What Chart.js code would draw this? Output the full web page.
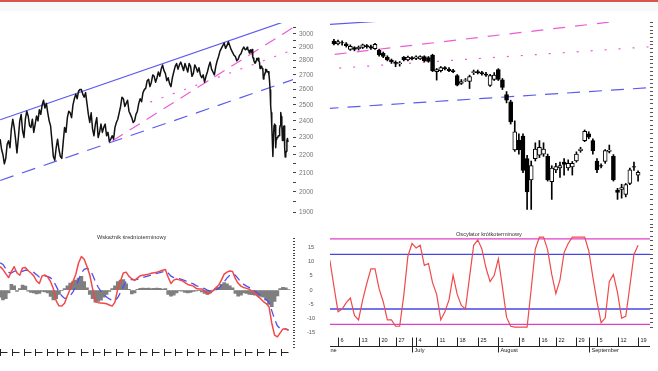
<!DOCTYPE html>
<html>
<head>
<meta charset="utf-8">
<script src="https://cdn.jsdelivr.net/npm/chart.js@4.4.0/dist/chart.umd.min.js"></script>
<style>
  body { margin: 0; width: 658px; height: 371px; background: #fff; position: relative; overflow: hidden; font-family: "Liberation Sans", Arial, sans-serif; }
  .topbar { position: absolute; left: 0; top: 0; width: 658px; height: 2px; background: #d9534f; }
  .band { position: absolute; left: 0; top: 2px; width: 658px; height: 9px; background: #f8f8f8; }
  canvas { position: absolute; }
  .ttl { position: absolute; font-size: 5.6px; line-height: 7px; color: #333; white-space: nowrap; }
</style>
</head>
<body>
<div class="topbar"></div>
<div class="band"></div>
<canvas id="priceChart" width="330" height="222" style="left:0;top:0"></canvas>
<canvas id="candleChart" width="328" height="230" style="left:330px;top:0"></canvas>
<canvas id="mediumChart" width="330" height="149" style="left:0;top:222px"></canvas>
<canvas id="shortChart" width="328" height="149" style="left:330px;top:222px"></canvas>
<div class="ttl" style="left:97px;top:234px">Wskaźnik średnioterminowy</div>
<div class="ttl" style="left:456px;top:231px">Oscylator krótkoterminowy</div>
<script>
// trading day index: 0 = 6 June

// top-left: closes every half week up to early June
const earlyStart = -441;
const earlyStep = 2.5;
const earlyCloses = [
  2290, 2230, 2200, 2150, 2180, 2260, 2280, 2240, 2350, 2410,
  2360, 2290, 2210, 2300, 2400, 2440, 2340, 2300, 2410, 2460,
  2430, 2370, 2360, 2410, 2330, 2380, 2430, 2400, 2470, 2440,
  2500, 2530, 2480, 2510, 2450, 2400, 2370, 2280, 2190, 2170,
  2240, 2290, 2230, 2190, 2180, 2270, 2360, 2330, 2420, 2460,
  2450, 2420, 2500, 2540, 2570, 2540, 2590, 2600, 2600, 2570,
  2550, 2580, 2510, 2440, 2390, 2450, 2350, 2310, 2380, 2420,
  2300, 2330, 2380, 2330, 2360, 2380, 2310, 2330, 2275, 2290,
  2310, 2290, 2360, 2390, 2410, 2450, 2490, 2550, 2540, 2490,
  2510, 2530, 2460, 2440, 2420, 2390, 2400, 2440, 2460, 2510,
  2540, 2520, 2580, 2600, 2610, 2660, 2670, 2620, 2650, 2700,
  2690, 2650, 2680, 2720, 2690, 2740, 2770, 2730, 2710, 2660,
  2680, 2640, 2620, 2680, 2720, 2760, 2780, 2740, 2770, 2790,
  2760, 2730, 2780, 2750, 2720, 2780, 2760, 2690, 2710, 2770,
  2750, 2720, 2750, 2700, 2680, 2700, 2650, 2690, 2720, 2760,
  2790, 2740, 2720, 2700, 2760, 2800, 2830, 2870, 2890, 2910,
  2930, 2890, 2910, 2940, 2910, 2880, 2860, 2840, 2830, 2800,
  2810, 2840, 2850, 2880, 2900, 2880
];

// daily candles, June - September
const candleStart = -1;
const opens = [
  2900, 2885, 2892, 2886, 2855, 2865, 2860, 2866, 2876, 2870,
  2860, 2850, 2835, 2815, 2800, 2788, 2780, 2815, 2800, 2812,
  2808, 2806, 2818, 2812, 2826, 2740, 2745, 2760, 2752, 2745,
  2720, 2680, 2695, 2690, 2735, 2740, 2735, 2728, 2670, 2700,
  2750, 2698, 2625, 2590, 2368, 2412, 2430, 2330, 2240, 2330,
  2345, 2350, 2340, 2232, 2282, 2290, 2315, 2290, 2295, 2320,
  2365, 2410, 2440, 2410, 2320, 2300, 2318, 2362, 2340, 2198,
  2200, 2180, 2225, 2296, 2260
];
const highs = [
  2910, 2905, 2902, 2892, 2880, 2870, 2874, 2884, 2882, 2878,
  2888, 2856, 2842, 2822, 2805, 2795, 2792, 2818, 2820, 2818,
  2822, 2822, 2822, 2818, 2830, 2756, 2766, 2766, 2760, 2752,
  2725, 2700, 2705, 2722, 2748, 2748, 2742, 2736, 2726, 2735,
  2755, 2705, 2640, 2598, 2500, 2440, 2440, 2345, 2320, 2400,
  2410, 2400, 2350, 2300, 2310, 2315, 2330, 2325, 2318, 2360,
  2380, 2458, 2450, 2418, 2330, 2308, 2370, 2390, 2348, 2205,
  2222, 2225, 2290, 2315, 2278
];
const lows = [
  2880, 2880, 2878, 2868, 2850, 2848, 2852, 2860, 2862, 2855,
  2855, 2820, 2812, 2795, 2782, 2765, 2768, 2795, 2795, 2800,
  2802, 2802, 2790, 2788, 2740, 2697, 2738, 2748, 2740, 2735,
  2668, 2675, 2690, 2655, 2725, 2728, 2722, 2715, 2665, 2695,
  2695, 2650, 2585, 2485, 2362, 2350, 2270, 2120, 2120, 2320,
  2335, 2340, 2235, 2160, 2270, 2250, 2260, 2280, 2260, 2315,
  2358, 2405, 2418, 2350, 2270, 2290, 2310, 2355, 2235, 2160,
  2165, 2170, 2220, 2280, 2235
];
const closes = [
  2885, 2898, 2890, 2875, 2872, 2855, 2866, 2880, 2870, 2862,
  2882, 2826, 2818, 2800, 2790, 2782, 2785, 2800, 2815, 2806,
  2816, 2818, 2795, 2792, 2745, 2750, 2760, 2755, 2745, 2740,
  2672, 2690, 2698, 2715, 2740, 2735, 2730, 2722, 2720, 2722,
  2700, 2660, 2598, 2495, 2450, 2368, 2280, 2190, 2300, 2372,
  2380, 2372, 2240, 2290, 2296, 2300, 2305, 2310, 2310, 2350,
  2372, 2452, 2425, 2365, 2282, 2298, 2365, 2368, 2240, 2188,
  2208, 2220, 2282, 2294, 2272
];

// trend lines, [day, value] end points
const upperChannel = [[-441, 2407], [90, 3131]];
const lowerChannel = [[-441, 2060], [90, 2678]];
const fanDashed = [[-240, 2281], [90, 3070]];
const fanDotted = [[-173, 2518], [90, 2891]];

const priceTicks = [1900, 2000, 2100, 2200, 2300, 2400, 2500, 2600, 2700, 2800, 2900, 3000];

// bottom-left: medium-term indicator, weekly
const indStart = -441;
const indStep = 5;
const indLine = [
  8.3, 7.2, 5.8, 4.4, 6.5, 8.2, 6.0, 5.2, 7.8, 7.9,
  6.8, 6.0, 5.0, 3.2, 2.3, 5.0, 5.3, 4.6, 3.0, 0.5,
  -3.8, -5.5, -5.6, -4.6, -2.0, 0.4, 3.0, 5.5, 9.5, 11.8,
  10.8, 8.3, 5.3, 0.5, -4.0, -4.4, -4.5, -4.6, -4.8, -5.2,
  -5.6, -4.2, 0.5, 3.3, 6.0, 6.3, 4.8, 4.0, 3.4, 4.2,
  5.0, 5.2, 5.4, 5.6, 5.9, 6.1, 6.3, 6.6, 7.0, 7.2,
  4.5, 2.3, 3.5, 3.9, 3.6, 3.3, 2.6, 2.0, 1.7, 1.4,
  0.6, 0.4, 0.4, -0.3, -1.4, -1.0, -0.3, 0.8, 1.7, 3.5,
  5.6, 6.3, 6.7, 6.5, 4.0, 2.4, 1.4, 0.9, 0.6, 0.3,
  -0.4, -1.0, -2.2, -3.0, -4.0, -4.7, -5.8, -11.6, -15.8, -16.4,
  -15.0, -13.6, -13.6, -14.2
];
const indSignal = [
  9.6, 9.0, 7.5, 6.2, 6.0, 6.6, 6.8, 6.5, 6.6, 7.0,
  6.9, 6.6, 6.2, 5.4, 4.6, 4.7, 4.9, 4.8, 4.3, 3.3,
  1.4, -0.6, -2.0, -2.9, -2.7, -2.0, -0.6, 1.2, 3.6, 6.0,
  7.3, 7.6, 7.2, 5.4, 3.0, 1.0, -0.4, -1.5, -2.4, -3.1,
  -3.6, -3.7, -2.6, -0.8, 1.3, 3.0, 3.6, 3.7, 3.6, 3.8,
  4.1, 4.4, 4.7, 5.0, 5.3, 5.6, 5.9, 6.1, 6.4, 6.6,
  6.0, 4.9, 4.4, 4.2, 4.0, 3.7, 3.3, 2.9, 2.5, 2.2,
  1.6, 1.2, 0.9, 0.5, 0.0, -0.3, -0.3, 0.1, 0.6, 1.5,
  2.9, 4.2, 5.2, 5.8, 5.2, 4.0, 2.8, 2.0, 1.4, 0.9,
  0.3, -0.3, -1.1, -1.8, -2.6, -3.4, -4.3, -7.2, -10.2, -12.5,
  -13.5, -13.6, -13.6, -13.9
];
const indHist = [
  -2.5, -3.4, -3.0, -1.0, 2.0, 1.5, -0.5, 0.5, 1.8, 1.4,
  -0.4, -0.8, -1.0, -1.3, -1.2, -0.5, -0.6, -1.0, -2.2, -3.4,
  -3.0, -1.5, -0.2, 0.5, 1.5, 2.5, 3.0, 3.5, 4.2, 4.8,
  3.0, 0.8, -1.5, -3.0, -4.2, -4.0, -3.5, -2.5, -1.5, -0.5,
  0.5, 1.5, 3.0, 3.5, 3.7, 2.2, 0.3, -1.3, -1.0, 0.3,
  0.6, 0.7, 0.6, 0.7, 0.5, 0.6, 0.7, 0.6, 0.4, 0.5,
  -1.5, -2.1, -1.8, -1.0, -0.3, -0.4, -0.8, -1.0, -0.8, -0.5,
  -0.3, -0.2, -0.6, -1.2, -1.5, -1.0, 0.0, 0.6, 1.0, 2.0,
  2.6, 2.2, 1.5, 0.8, -1.2, -2.1, -1.8, -1.0, -1.2, -1.5,
  -1.6, -1.8, -2.0, -2.2, -2.5, -3.5, -5.0, -5.8, -4.0, -2.0,
  0.5, 1.0, 0.8, 0.2
];
const indTicks = [15, 10, 5, 0, -5, -10, -15];
const monthStarts = [-442, -420, -398, -378, -358, -339, -319, -296, -276, -256, -235, -213, -191,
  -169, -148, -128, -107, -87, -67, -44, -24, -3, 18, 39, 61];

// bottom-right: short-term oscillator, daily
const oscStart = -2;
const oscValues = [
  74, 45, 17, 20, 27, 32, 13, 8, 30, 48,
  64, 64, 42, 28, 8, 8, 1, 1, 35, 78,
  92, 87, 90, 68, 70, 49, 36, 8, 17, 30,
  57, 36, 24, 20, 55, 90, 96, 86, 65, 50,
  57, 75, 44, 11, 1, 0, 0, 0, 0, 42,
  86, 99, 99, 85, 58, 37, 52, 82, 92, 99,
  99, 99, 99, 84, 55, 28, 5, 10, 50, 58,
  38, 10, 12, 45, 80, 90
];
const oscOuter = [3, 97];
const oscInner = [20, 80];
const weekDays = [0, 5, 10, 14, 19, 24, 29, 34, 39, 44, 49, 53, 58, 63, 68, 73];
const weekLabels = ['6', '13', '20', '27', '4', '11', '18', '25', '1', '8', '16', '22', '29', '5', '12', '19'];
const monthDays = [-4, 18, 39, 61];
const monthLabels = ['June', 'July', 'August', 'September'];

const BLUE = '#5b5bef';
const PINK = '#ec5bd6';

Chart.defaults.font.family = '"Liberation Sans", Arial, sans-serif';
Chart.defaults.animation = false;
Chart.defaults.plugins.legend.display = false;
Chart.defaults.plugins.tooltip.enabled = false;
Chart.defaults.elements.point.radius = 0;

const trend = (pts, color, dash, order) => ({
  type: 'line',
  data: pts.map(p => ({ x: p[0], y: p[1] })),
  borderColor: color,
  borderWidth: 1.2,
  borderDash: dash,
  order: order || 0
});

// ---- top-left: closes with channel ----
const leftPoints = earlyCloses.map((v, i) => ({ x: earlyStart + i * earlyStep, y: v }))
  .concat(closes.map((v, i) => ({ x: candleStart + i, y: v })));

new Chart(document.getElementById('priceChart'), {
  type: 'line',
  data: {
    datasets: [
      trend(upperChannel, BLUE, [], 1),
      trend(lowerChannel, BLUE, [14, 9], 1),
      trend(fanDashed, PINK, [12, 8], 1),
      trend(fanDotted, PINK, [2, 10], 1),
      { data: leftPoints, borderColor: '#111', borderWidth: 1.5, borderJoinStyle: 'round', order: 0 }
    ]
  },
  options: {
    responsive: false,
    devicePixelRatio: 1,
    layout: { padding: { top: 23, bottom: 4, left: 0, right: 0 }, autoPadding: false },
    scales: {
      x: { type: 'linear', min: -441.3, max: 81.9, display: false },
      y: {
        type: 'logarithmic', position: 'right', min: 1885, max: 3084,
        afterFit: s => { s.width = 37; },
        afterBuildTicks: s => {
          const t = [];
          priceTicks.forEach(p => { t.push({ value: p }); t.push({ value: p + 50 }); });
          s.ticks = t;
        },
        grid: { drawOnChartArea: false, tickLength: 3, color: '#444' },
        border: { display: false },
        ticks: {
          autoSkip: false, padding: 3, color: '#777', font: { size: 6.5 },
          callback: v => priceTicks.includes(v) ? String(v) : ''
        }
      }
    }
  }
});

// ---- top-right: candles ----
const wicks = lows.map((l, i) => ({ x: candleStart + i, y: [l, highs[i]] }));
const bodies = opens.map((o, i) => ({ x: candleStart + i, y: [o, closes[i]] }));
const bodyColors = opens.map((o, i) => closes[i] >= o ? '#fff' : '#000');

const rightTicks = [];
for (let v = 2060; v <= 3000; v += 20) rightTicks.push({ value: v });

new Chart(document.getElementById('candleChart'), {
  type: 'bar',
  data: {
    datasets: [
      { data: wicks, backgroundColor: '#000', barThickness: 1, grouped: false, order: 1 },
      { data: bodies, backgroundColor: bodyColors, borderColor: '#000', borderWidth: 1,
        borderSkipped: false, barThickness: 4, grouped: false, order: 0 },
      trend(upperChannel, BLUE, [], 2),
      trend(lowerChannel, BLUE, [13, 9], 2),
      trend(fanDashed, PINK, [12, 10], 2),
      trend(fanDotted, PINK, [2, 12], 2)
    ]
  },
  options: {
    responsive: false,
    devicePixelRatio: 1,
    layout: { padding: { top: 22, bottom: 2, left: 0, right: 0 }, autoPadding: false },
    scales: {
      x: { type: 'linear', offset: false, min: -1.95, max: 75.9, display: false },
      y: {
        type: 'logarithmic', position: 'right', min: 2048, max: 3005,
        afterFit: s => { s.width = 8; },
        afterBuildTicks: s => { s.ticks = rightTicks.slice(); },
        grid: { drawOnChartArea: false, tickLength: 3, color: '#555' },
        border: { display: false },
        ticks: { display: false }
      }
    }
  }
});

// ---- bottom-left: medium-term indicator ----
const indX = i => indStart + i * indStep;

const monthTicks = {
  id: 'monthTicks',
  afterDraw(chart) {
    const { ctx, scales: { x }, chartArea } = chart;
    ctx.save();
    ctx.strokeStyle = '#222';
    ctx.lineWidth = 1;
    monthStarts.forEach(d => {
      const px = Math.round(x.getPixelForValue(d)) + 0.5;
      if (px < 0 || px > chartArea.right) return;
      ctx.beginPath();
      ctx.moveTo(px, 127); ctx.lineTo(px, 134);
      ctx.moveTo(px, 130.5); ctx.lineTo(px + 7, 130.5);
      ctx.stroke();
    });
    ctx.restore();
  }
};

const indAxisTicks = [];
for (let v = -20; v <= 18; v++) indAxisTicks.push({ value: v });

new Chart(document.getElementById('mediumChart'), {
  type: 'bar',
  data: {
    datasets: [
      { data: indHist.map((v, i) => ({ x: indX(i), y: v })), backgroundColor: '#7f7f7f',
        barThickness: 3, grouped: false, order: 2 },
      { type: 'line', data: indSignal.map((v, i) => ({ x: indX(i), y: v })), borderColor: '#4f4ff0',
        borderWidth: 1.3, borderDash: [8, 5], order: 1 },
      { type: 'line', data: indLine.map((v, i) => ({ x: indX(i), y: v })), borderColor: '#f24848',
        borderWidth: 1.5, borderJoinStyle: 'round', order: 0 }
    ]
  },
  options: {
    responsive: false,
    devicePixelRatio: 1,
    layout: { padding: { top: 11, bottom: 23, left: 0, right: 0 }, autoPadding: false },
    scales: {
      x: { type: 'linear', offset: false, min: -441.3, max: 81.9, display: false },
      y: {
        position: 'right', min: -20.3, max: 18.5,
        afterFit: s => { s.width = 37; },
        afterBuildTicks: s => { s.ticks = indAxisTicks.slice(); },
        grid: { drawOnChartArea: false, tickLength: 2, color: '#444' },
        border: { display: false },
        ticks: {
          autoSkip: false, padding: 12, crossAlign: 'center', color: '#555', font: { size: 5.6 },
          callback: v => indTicks.includes(v) ? String(v) : ''
        }
      }
    }
  },
  plugins: [monthTicks]
});

// ---- bottom-right: short-term oscillator ----
const dateAxis = {
  id: 'dateAxis',
  afterDraw(chart) {
    const { ctx, scales: { x }, chartArea } = chart;
    const base = 124.5;
    ctx.save();
    ctx.strokeStyle = '#222';
    ctx.fillStyle = '#222';
    ctx.lineWidth = 1;
    ctx.beginPath();
    ctx.moveTo(chartArea.left, base); ctx.lineTo(chartArea.right, base);
    ctx.stroke();
    ctx.font = '5.6px "Liberation Sans", Arial, sans-serif';
    ctx.textBaseline = 'middle';
    weekDays.forEach((d, i) => {
      const px = Math.round(x.getPixelForValue(d)) + 0.5;
      ctx.beginPath(); ctx.moveTo(px, base - 9); ctx.lineTo(px, base); ctx.stroke();
      ctx.fillText(weekLabels[i], px + 2, base - 6);
    });
    monthDays.forEach((d, i) => {
      const px = Math.round(x.getPixelForValue(d)) + 0.5;
      ctx.beginPath(); ctx.moveTo(px, base - 9); ctx.lineTo(px, base + 6); ctx.stroke();
      ctx.fillText(monthLabels[i], px + 2, base + 4);
    });
    ctx.restore();
  }
};

const levelLine = (v, color) => ({
  data: [{ x: -3, y: v }, { x: 77, y: v }], borderColor: color, borderWidth: 1.3, order: 1
});

const oscAxisTicks = [];
for (let v = 0; v <= 110; v += 5) oscAxisTicks.push({ value: v });

new Chart(document.getElementById('shortChart'), {
  type: 'line',
  data: {
    datasets: [
      levelLine(oscOuter[0], '#e23fc8'),
      levelLine(oscOuter[1], '#e23fc8'),
      levelLine(oscInner[0], '#4646e6'),
      levelLine(oscInner[1], '#4646e6'),
      { data: oscValues.map((v, i) => ({ x: oscStart + i, y: v })), borderColor: '#f04a4a',
        borderWidth: 1.2, order: 0 }
    ]
  },
  options: {
    responsive: false,
    devicePixelRatio: 1,
    layout: { padding: { top: 3, bottom: 42, left: 0, right: 0 }, autoPadding: false },
    scales: {
      x: { type: 'linear', min: -1.95, max: 75.9, display: false },
      y: {
        position: 'right', min: -2, max: 112.3,
        afterFit: s => { s.width = 8; },
        afterBuildTicks: s => { s.ticks = oscAxisTicks.slice(); },
        grid: { drawOnChartArea: false, tickLength: 3, color: '#555' },
        border: { display: false },
        ticks: { display: false }
      }
    }
  },
  plugins: [dateAxis]
});
</script>
</body>
</html>
